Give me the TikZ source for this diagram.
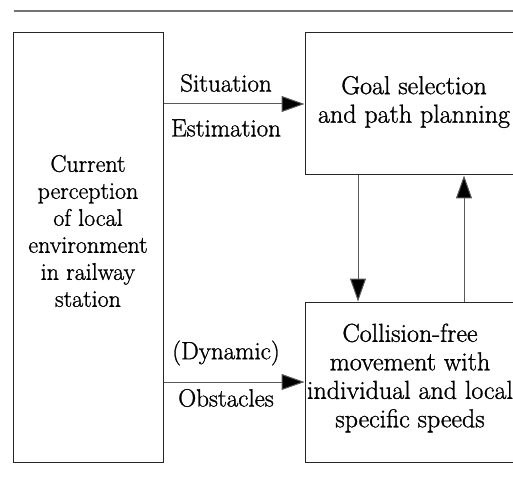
\documentclass[tikz,border=0pt]{standalone}
\usepackage{fontspec}
\newfontfamily\heavy[FakeBold=1.1]{Latin Modern Roman}
\usetikzlibrary{arrows.meta}
\begin{document}
\begin{tikzpicture}[x=1pt,y=-1pt,
  box/.style={draw=black!85,line width=1pt,rectangle,inner sep=0pt},
  txt/.style={align=center,font=\heavy\fontsize{24}{27}\selectfont,inner sep=0pt},
  rtxt/.style={align=center,font=\heavy\fontsize{26}{28.5}\selectfont,inner sep=0pt},
  lbl/.style={font=\heavy\fontsize{25}{26}\selectfont,inner sep=0pt},
  conn/.style={draw=black!65,line width=1pt,-{Triangle[length=23pt,width=16pt,fill=black]}}]
\clip (0,0) rectangle (513,478);
\useasboundingbox (0,0) rectangle (513,478);
\draw[black!55,line width=1.2pt] (14,11) -- (513,11);
\node[box,minimum width=150,minimum height=429] (left) at (88,247.5) {};
\node[box,minimum width=218,minimum height=142] (top) at (414,104) {};
\node[box,minimum width=218,minimum height=160] (bot) at (414,382) {};
\node[txt] (lt) at (88,231) {Current\\perception\\of local\\environment\\in railway\\station};
\node[rtxt] (tt) at (414,102) {Goal selection\\and path planning};
\node[rtxt] (bt) at (410,378) {Collision-free\\movement with\\individual and local\\specific speeds};
\coordinate (dn) at (358,0);
\coordinate (up) at (464,0);
\draw[conn] (left.east |- top.west) -- (top.west);
\draw[conn] (left.east |- bot.west) -- (bot.west);
\draw[conn] (top.south -| dn) -- (bot.north -| dn);
\draw[conn] (bot.north -| up) -- (top.south -| up);
\node[lbl] (s1) at (226,83) {Situation};
\node[lbl] (s2) at (226,128) {Estimation};
\node[lbl] (o1) at (226,353) {(Dynamic)};
\node[lbl] (o2) at (226,398) {Obstacles};
\end{tikzpicture}
\end{document}
